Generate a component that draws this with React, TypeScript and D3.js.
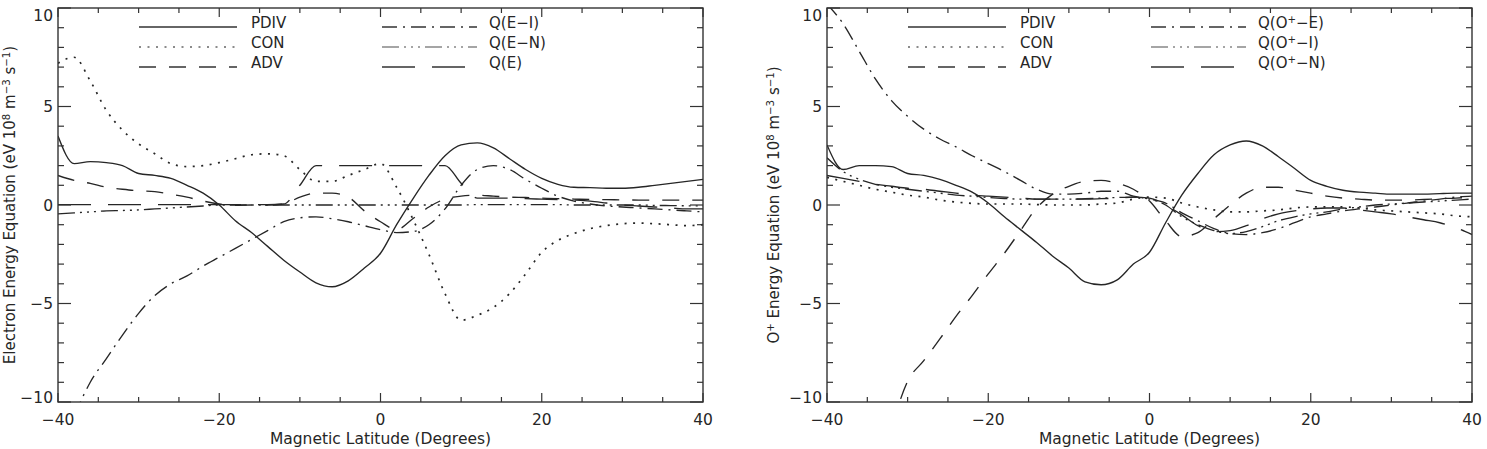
import React, { useRef, useEffect } from "react";
import * as d3 from "d3";

// magnetic latitude grid shared by every curve (degrees)
const latitude = [
	-40, -38, -36, -34, -32, -30, -28, -26, -24, -22, -20, -18, -16, -14, -12, -10, -8, -6, -4, -2,
	0, 2, 4, 6, 8, 10, 12, 14, 16, 18, 20, 22, 24, 26, 28, 30, 32, 34, 36, 38, 40,
];

// electron energy equation terms (eV 10^8 m^-3 s^-1)
const ePdiv = [3.5, 2.1, 2.2, 2.15, 2.0, 1.6, 1.5, 1.35, 1.0, 0.6, 0.0, -0.8, -1.4, -2.1, -2.8, -3.4, -3.95, -4.15, -3.85, -3.2, -2.45, -1.0, 0.3, 1.5, 2.5, 3.05, 3.15, 2.9, 2.35, 1.8, 1.35, 1.05, 0.9, 0.88, 0.85, 0.85, 0.9, 1.0, 1.1, 1.2, 1.3];
const eCon = [7.2, 7.5, 6.3, 4.8, 3.8, 3.1, 2.6, 2.1, 1.95, 2.0, 2.15, 2.35, 2.55, 2.6, 2.5, 1.8, 1.2, 1.2, 1.5, 1.8, 2.1, 0.9, -0.7, -2.5, -4.5, -5.85, -5.6, -5.2, -4.5, -3.5, -2.4, -1.8, -1.45, -1.2, -1.05, -0.95, -0.92, -0.95, -1.0, -1.05, -1.0];
const eAdv = [1.5, 1.25, 1.1, 0.9, 0.8, 0.72, 0.68, 0.55, 0.4, 0.2, 0.05, -0.02, 0.0, 0.0, 0.05, 0.4, 0.6, 0.6, 0.4, -0.3, -0.85, -1.25, -0.7, -0.1, 0.3, 0.45, 0.5, 0.45, 0.4, 0.38, 0.35, 0.32, 0.3, 0.28, 0.27, 0.26, 0.25, 0.25, 0.25, 0.25, 0.25];
const eQei = [-13.5, -10.8, -9.0, -7.8, -6.6, -5.5, -4.6, -4.0, -3.6, -3.1, -2.65, -2.2, -1.75, -1.3, -0.85, -0.65, -0.6, -0.7, -0.85, -1.05, -1.25, -1.4, -1.35, -1.0, -0.2, 1.0, 1.8, 2.0, 1.8, 1.3, 0.85, 0.45, 0.2, 0.05, -0.05, -0.1, -0.15, -0.2, -0.25, -0.3, -0.35];
const eQen = [-0.45, -0.4, -0.35, -0.3, -0.28, -0.25, -0.2, -0.15, -0.1, -0.05, 0.0, 0.0, 0.0, 0.0, 0.0, 0.0, 0.0, 0.0, 0.0, 0.0, 0.0, 0.0, 0.0, 0.0, 0.0, 0.0, 0.02, 0.02, 0.02, 0.02, 0.02, 0.02, 0.0, 0.0, 0.0, 0.0, 0.0, -0.02, -0.03, -0.04, -0.05];
const eQe = [0.02, 0.02, 0.02, 0.02, 0.02, 0.02, 0.02, 0.02, 0.02, 0.02, 0.02, 0.02, 0.02, 0.02, 0.05, 1.0, 2.0, 2.0, 2.0, 2.0, 2.0, 2.0, 2.0, 2.0, 2.0, 1.1, 0.35, 0.35, 0.35, 0.32, 0.3, 0.28, 0.25, 0.2, 0.1, 0.0, -0.05, -0.1, -0.15, -0.2, -0.2];

// O+ energy equation terms
const oPdiv = [3.05, 1.8, 2.0, 2.0, 1.95, 1.6, 1.5, 1.3, 1.0, 0.65, 0.1, -0.6, -1.25, -1.9, -2.6, -3.2, -3.9, -4.05, -3.8, -3.0, -2.4, -0.9, 0.5, 1.6, 2.55, 3.05, 3.25, 3.0, 2.45, 1.85, 1.25, 0.95, 0.75, 0.65, 0.6, 0.55, 0.55, 0.55, 0.58, 0.6, 0.6];
const oCon = [1.4, 1.2, 1.0, 0.8, 0.65, 0.5, 0.4, 0.25, 0.15, 0.08, 0.05, 0.05, 0.05, 0.02, 0.0, 0.0, 0.0, 0.05, 0.1, 0.3, 0.4, 0.35, 0.1, -0.1, -0.25, -0.35, -0.35, -0.3, -0.25, -0.15, -0.1, -0.1, -0.1, -0.15, -0.25, -0.3, -0.35, -0.4, -0.45, -0.55, -0.6];
const oAdv = [null, null, null, null, -11.3, -8.95, -7.9, -6.8, -5.65, -4.6, -3.5, -2.45, -1.3, -0.15, 0.55, 0.95, 1.2, 1.25, 1.1, 0.8, 0.2, -0.8, -1.6, -1.4, -0.7, 0.0, 0.6, 0.9, 0.9, 0.75, 0.6, 0.45, 0.35, 0.3, 0.25, 0.25, 0.25, 0.28, 0.32, 0.35, 0.4];
const oQoe = [10.2, 9.2, 7.8, 6.4, 5.3, 4.5, 3.85, 3.35, 2.95, 2.5, 2.1, 1.7, 1.25, 0.8, 0.55, 0.55, 0.6, 0.7, 0.7, 0.45, 0.3, 0.1, -0.4, -0.8, -1.2, -1.45, -1.5, -1.4, -1.2, -0.9, -0.6, -0.45, -0.3, -0.2, -0.1, 0.0, 0.1, 0.2, 0.3, 0.4, 0.45];
const oQoi = [2.4, 1.7, 1.3, 1.05, 0.9, 0.8, 0.7, 0.6, 0.5, 0.45, 0.38, 0.33, 0.3, 0.3, 0.3, 0.3, 0.32, 0.35, 0.38, 0.4, 0.3, 0.0, -0.6, -1.0, -1.3, -1.45, -1.35, -1.1, -0.8, -0.6, -0.45, -0.35, -0.2, -0.1, 0.0, 0.05, 0.1, 0.15, 0.2, 0.25, 0.3];
const oQon = [1.5, 1.35, 1.2, 1.05, 0.95, 0.85, 0.8, 0.7, 0.6, 0.5, 0.45, 0.4, 0.35, 0.3, 0.3, 0.3, 0.3, 0.32, 0.35, 0.4, 0.35, 0.0, -0.5, -1.05, -1.35, -1.3, -1.05, -0.7, -0.45, -0.3, -0.2, -0.15, -0.15, -0.25, -0.35, -0.45, -0.6, -0.75, -0.9, -1.15, -1.5];

const xTickLabels = [-40, -20, 0, 20, 40];
const yTickLabels = [-10, -5, 0, 5, 10];

// IDL linestyles: solid, dotted, dashed, dash-dot, dash-dot-dot-dot, long dash
const SOLID = null;
const DOTTED = "2,6.5";
const DASHED = "17,13";
const DASH_DOT = "15,6,2,6";
const DASH_DOT3 = "17,5,2,5,2,5,2,5";
const LONG_DASH = "33,17";

type Part = [string, boolean];
interface Series {
	label: Part[];
	values: (number | null)[];
	dash: string | null;
	legendColor: string;
}

const electronSeries: Series[] = [
	{ label: [["PDIV", false]], values: ePdiv, dash: SOLID, legendColor: "#333" },
	{ label: [["CON", false]], values: eCon, dash: DOTTED, legendColor: "#666" },
	{ label: [["ADV", false]], values: eAdv, dash: DASHED, legendColor: "#333" },
	{ label: [["Q(E\u2212I)", false]], values: eQei, dash: DASH_DOT, legendColor: "#333" },
	{ label: [["Q(E\u2212N)", false]], values: eQen, dash: DASH_DOT3, legendColor: "#888" },
	{ label: [["Q(E)", false]], values: eQe, dash: LONG_DASH, legendColor: "#333" },
];

const oxygenSeries: Series[] = [
	{ label: [["PDIV", false]], values: oPdiv, dash: SOLID, legendColor: "#333" },
	{ label: [["CON", false]], values: oCon, dash: DOTTED, legendColor: "#666" },
	{ label: [["ADV", false]], values: oAdv, dash: DASHED, legendColor: "#333" },
	{ label: [["Q(O", false], ["+", true], ["\u2212E)", false]], values: oQoe, dash: DASH_DOT, legendColor: "#333" },
	{ label: [["Q(O", false], ["+", true], ["\u2212I)", false]], values: oQoi, dash: DASH_DOT3, legendColor: "#888" },
	{ label: [["Q(O", false], ["+", true], ["\u2212N)", false]], values: oQon, dash: LONG_DASH, legendColor: "#333" },
];

const unitParts: Part[] = [
	[" (eV 10", false], ["8", true], [" m", false], ["\u22123", true], [" s", false], ["\u22121", true], [")", false],
];

const panels = [
	{ id: "electron", left: 58, right: 703, labelX: 15, series: electronSeries, ylabel: [["Electron Energy Equation", false], ...unitParts] as Part[] },
	{ id: "oxygen", left: 827, right: 1472, labelX: 779, series: oxygenSeries, ylabel: [["O", false], ["+", true], [" Energy Equation", false], ...unitParts] as Part[] },
];

const WIDTH = 1487;
const HEIGHT = 449;
const TOP = 8;
const BOTTOM = 402;
const INK = "#262626";
const FONT = "'DejaVu Sans', sans-serif";

const fmt = (v: number) => (v < 0 ? "\u2212" + Math.abs(v) : String(v));

function richText(sel: d3.Selection<SVGTextElement, unknown, null, undefined>, parts: Part[]) {
	parts.forEach(([t, sup], i) => {
		const prevSup = i > 0 && parts[i - 1][1];
		let dy = 0;
		if (sup && !prevSup) dy = -5;
		else if (!sup && prevSup) dy = 5;
		const ts = sel.append("tspan").attr("dy", dy).text(t);
		if (sup) ts.attr("font-size", "0.68em");
	});
}

const App: React.FC = () => {
	const svgRef = useRef<SVGSVGElement | null>(null);

	useEffect(() => {
		if (!svgRef.current) return;
		const svg = d3.select(svgRef.current);
		svg.selectAll("*").remove();

		panels.forEach((p) => {
			const x = d3.scaleLinear().domain([-40, 40]).range([p.left, p.right]);
			const y = d3.scaleLinear().domain([-10, 10]).range([BOTTOM, TOP]);
			const g = svg.append("g");

			const clipId = `clip-${p.id}`;
			svg.append("clipPath").attr("id", clipId)
				.append("rect")
				.attr("x", p.left).attr("y", TOP)
				.attr("width", p.right - p.left).attr("height", BOTTOM - TOP);

			// curves
			const line = d3.line<number | null>()
				.defined((d) => d != null)
				.x((_, i) => x(latitude[i]))
				.y((d) => y(d as number))
				.curve(d3.curveMonotoneX);

			const curves = g.append("g").attr("clip-path", `url(#${clipId})`);
			p.series.forEach((s) => {
				curves.append("path")
					.attr("d", line(s.values))
					.attr("fill", "none")
					.attr("stroke", INK)
					.attr("stroke-width", s.dash === DOTTED ? 1.7 : 1.35)
					.attr("stroke-dasharray", s.dash)
					.attr("stroke-linejoin", "round");
			});

			// frame
			g.append("rect")
				.attr("x", p.left).attr("y", TOP)
				.attr("width", p.right - p.left).attr("height", BOTTOM - TOP)
				.attr("fill", "none").attr("stroke", "#333").attr("stroke-width", 1.4);

			// x ticks (bottom and top)
			const xMinor = x.ticks(16);
			xMinor.forEach((v) => {
				const major = xTickLabels.includes(v);
				const len = major ? 9 : 5;
				g.append("line").attr("x1", x(v)).attr("x2", x(v))
					.attr("y1", BOTTOM).attr("y2", BOTTOM - len)
					.attr("stroke", "#333").attr("stroke-width", 1.2);
				g.append("line").attr("x1", x(v)).attr("x2", x(v))
					.attr("y1", TOP).attr("y2", TOP + len)
					.attr("stroke", "#333").attr("stroke-width", 1.2);
			});
			xTickLabels.forEach((v) => {
				g.append("text").attr("x", x(v)).attr("y", 425)
					.attr("text-anchor", "middle").attr("font-family", FONT)
					.attr("font-size", 15.5).attr("fill", INK).text(fmt(v));
			});

			// y ticks (left and right)
			const yMinor = y.ticks(20);
			yMinor.forEach((v) => {
				const major = yTickLabels.includes(v);
				const len = major ? 13 : 6;
				g.append("line").attr("x1", p.left).attr("x2", p.left + len)
					.attr("y1", y(v)).attr("y2", y(v))
					.attr("stroke", "#333").attr("stroke-width", 1.2);
				g.append("line").attr("x1", p.right).attr("x2", p.right - len)
					.attr("y1", y(v)).attr("y2", y(v))
					.attr("stroke", "#333").attr("stroke-width", 1.2);
			});
			yTickLabels.forEach((v) => {
				const shift = v === 10 ? 7 : v === -10 ? -5 : 0;
				g.append("text").attr("x", p.left - 5).attr("y", y(v) + shift + 5.5)
					.attr("text-anchor", "end").attr("font-family", FONT)
					.attr("font-size", 15.5).attr("fill", INK).text(fmt(v));
			});

			// axis titles
			g.append("text")
				.attr("x", (p.left + p.right) / 2).attr("y", 444)
				.attr("text-anchor", "middle").attr("font-family", FONT)
				.attr("font-size", 15.5).attr("fill", INK)
				.text("Magnetic Latitude (Degrees)");

			const yl = g.append("text")
				.attr("transform", `translate(${p.labelX},${(TOP + BOTTOM) / 2}) rotate(-90)`)
				.attr("text-anchor", "middle").attr("font-family", FONT)
				.attr("font-size", 15).attr("fill", INK);
			richText(yl, p.ylabel);

			// legend: two columns of three
			p.series.forEach((s, i) => {
				const col = Math.floor(i / 3);
				const row = i % 3;
				const ly = 27 + row * 20;
				const x0 = p.left + (col === 0 ? 81 : 324);
				const x1 = p.left + (col === 0 ? 179 : 419);
				const tx = p.left + (col === 0 ? 193 : 431);
				g.append("line").attr("x1", x0).attr("x2", x1)
					.attr("y1", ly).attr("y2", ly)
					.attr("stroke", s.legendColor).attr("stroke-width", 1.7)
					.attr("stroke-dasharray", s.dash);
				const t = g.append("text").attr("x", tx).attr("y", ly + 1)
					.attr("font-family", FONT).attr("font-size", 15).attr("fill", INK);
				richText(t, s.label);
			});
		});
	}, []);

	return (
		<svg
			ref={svgRef}
			width={WIDTH}
			height={HEIGHT}
			style={{ position: "absolute", left: 0, top: 0, background: "#fff" }}
		/>
	);
};

export default App;
